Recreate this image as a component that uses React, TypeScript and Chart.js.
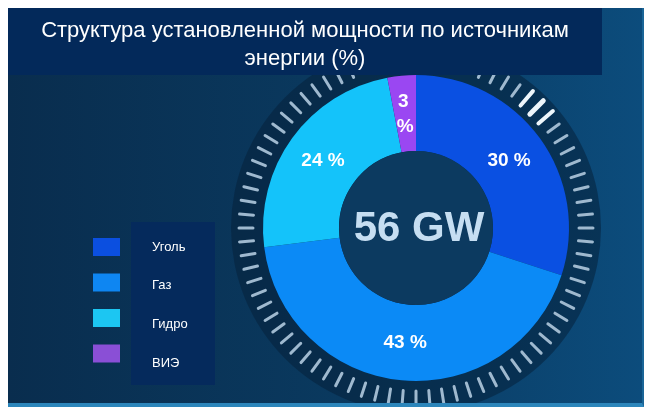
import React, { useEffect, useRef } from 'react';
import { Chart, registerables } from 'chart.js';

Chart.register(...registerables);

const categories = ['Уголь', 'Газ', 'Гидро', 'ВИЭ'];
const shares = [30, 43, 24, 3];
const sliceColors = ['#0a50e2', '#0b8af6', '#14c3fa', '#9a47f2'];
const legendColors = ['#0b4fe0', '#0e86f2', '#1cc6f2', '#8a4fd6'];
const titleLines = ['Структура установленной мощности по источникам', 'энергии (%)'];
const totalLabel = '56 GW';

const FONT = '"Liberation Sans", Arial, sans-serif';

export default function App() {
  const ref = useRef<HTMLCanvasElement>(null);

  useEffect(() => {
    const canvas = ref.current;
    if (!canvas) return;

    const deco = {
      id: 'deco',
      beforeDraw(chart: any) {
        const { ctx, width, height } = chart;
        ctx.save();
        const g = ctx.createLinearGradient(0, 0, width, 0);
        g.addColorStop(0, '#092d4e');
        g.addColorStop(0.55, '#0a3a60');
        g.addColorStop(1, '#0c4c7c');
        ctx.fillStyle = g;
        ctx.fillRect(0, 0, width, height);
        ctx.restore();
      },
      beforeDatasetsDraw(chart: any) {
        const { ctx } = chart;
        const arc = chart.getDatasetMeta(0).data[0];
        if (!arc) return;
        const { x, y, outerRadius } = arc;
        ctx.save();
        ctx.beginPath();
        ctx.arc(x, y, outerRadius + 32, 0, Math.PI * 2);
        ctx.fillStyle = 'rgba(5,32,58,0.55)';
        ctx.fill();
        const N = 80;
        ctx.lineCap = 'round';
        for (let i = 0; i < N; i++) {
          const a = (i / N) * Math.PI * 2 - Math.PI / 2;
          const bright = i >= 9 && i <= 11;
          const r1 = outerRadius + (bright ? 8 : 10);
          const r2 = outerRadius + (bright ? 27 : 24);
          ctx.beginPath();
          ctx.moveTo(x + Math.cos(a) * r1, y + Math.sin(a) * r1);
          ctx.lineTo(x + Math.cos(a) * r2, y + Math.sin(a) * r2);
          ctx.strokeStyle = bright ? '#eef6fb' : '#9fb9cf';
          ctx.lineWidth = bright ? (i === 10 ? 5 : 4) : 3;
          ctx.stroke();
        }
        ctx.restore();
      },
      afterDatasetsDraw(chart: any) {
        const { ctx } = chart;
        const meta = chart.getDatasetMeta(0);
        const arc = meta.data[0];
        if (!arc) return;
        const { x, y, innerRadius } = arc;
        ctx.save();
        ctx.beginPath();
        ctx.arc(x, y, innerRadius, 0, Math.PI * 2);
        ctx.fillStyle = '#0c3a60';
        ctx.fill();
        ctx.fillStyle = '#c6def2';
        ctx.font = `bold 42px ${FONT}`;
        ctx.textAlign = 'center';
        ctx.textBaseline = 'middle';
        ctx.fillText(totalLabel, x + 3, y + 1);

        ctx.fillStyle = '#ffffff';
        ctx.font = `bold 19px ${FONT}`;
        meta.data.forEach((el: any, i: number) => {
          const p = el.tooltipPosition();
          const v = shares[i];
          if (v < 5) {
            ctx.fillText(String(v), p.x - 2, p.y - 12);
            ctx.fillText('%', p.x, p.y + 13);
          } else {
            ctx.fillText(`${v} %`, p.x, p.y);
          }
        });
        ctx.restore();
      },
      afterDraw(chart: any) {
        const { ctx } = chart;
        ctx.save();
        // title box
        ctx.fillStyle = '#03295a';
        ctx.fillRect(0, 0, 594, 67);
        ctx.fillStyle = '#ffffff';
        ctx.font = `22px ${FONT}`;
        ctx.textAlign = 'center';
        ctx.textBaseline = 'middle';
        titleLines.forEach((t, i) => ctx.fillText(t, 297, 23 + i * 28));

        // legend
        ctx.fillStyle = '#052a5c';
        ctx.fillRect(123, 214, 84, 163);
        ctx.textAlign = 'left';
        ctx.font = `13px ${FONT}`;
        categories.forEach((c, i) => {
          const sy = 239 + i * 35.5;
          ctx.fillStyle = legendColors[i];
          ctx.fillRect(85, sy - 9, 27, 18);
          ctx.fillStyle = '#ffffff';
          ctx.fillText(c, 144, 239 + i * 38.7);
        });
        ctx.restore();
      },
    };

    const chart = new Chart(canvas, {
      type: 'doughnut',
      data: {
        labels: categories,
        datasets: [
          {
            data: shares,
            backgroundColor: sliceColors,
            borderWidth: 0,
            hoverOffset: 0,
            offset: 0,
          },
        ],
      },
      options: {
        animation: false,
        responsive: true,
        maintainAspectRatio: false,
        radius: 153,
        cutout: 77,
        layout: { padding: { top: 67, bottom: 22, left: 255, right: 73 } },
        plugins: {
          legend: { display: false },
          tooltip: { enabled: false },
          title: { display: false },
        },
      } as any,
      plugins: [deco],
    });

    return () => chart.destroy();
  }, []);

  return (
    <div
      style={{
        width: 634,
        height: 395,
        position: 'relative',
        borderBottom: '4px solid #2c86bb',
        borderRight: '2px solid #1a6597',
      }}
    >
      <canvas ref={ref} />
    </div>
  );
}
